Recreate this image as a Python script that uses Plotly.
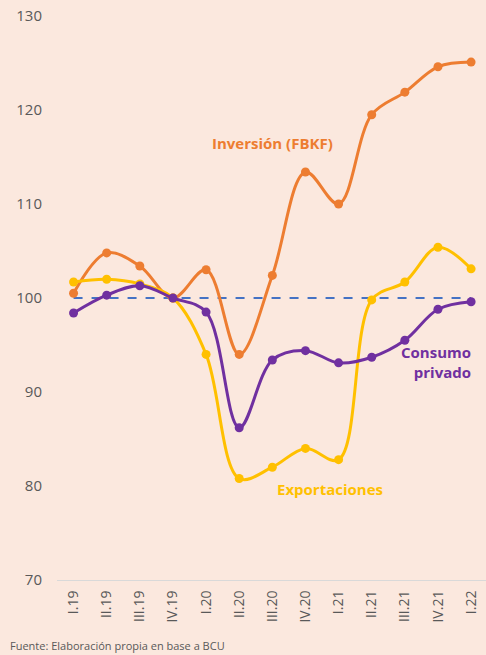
import plotly.graph_objects as go

quarters = ["I.19", "II.19", "III.19", "IV.19", "I.20", "II.20", "III.20", "IV.20",
            "I.21", "II.21", "III.21", "IV.21", "I.22"]
inversion = [100.5, 104.8, 103.4, 100.0, 103.0, 94.0, 102.4, 113.4, 110.0, 119.5, 121.9, 124.6, 125.1]
exportaciones = [101.7, 102.0, 101.5, 100.0, 94.0, 80.8, 82.0, 84.0, 82.8, 99.8, 101.7, 105.4, 103.1]
consumo = [98.4, 100.3, 101.3, 100.0, 98.5, 86.2, 93.4, 94.4, 93.1, 93.7, 95.5, 98.8, 99.6]
base = [100] * len(quarters)

ORANGE = "#ED7D31"
YELLOW = "#FFC000"
PURPLE = "#7030A0"
BLUE = "#4472C4"
BG = "#FBE8DE"
GREY = "#595959"

W, H = 486, 655
L, R, T, B = 57, 0, 16, 75
PH = H - T - B

x = list(range(len(quarters)))
fig = go.Figure()
fig.add_trace(go.Scatter(x=x, y=base, mode="lines",
                         line=dict(color=BLUE, width=2, dash="dash"), hoverinfo="skip"))
for vals, col in [(inversion, ORANGE), (exportaciones, YELLOW), (consumo, PURPLE)]:
    fig.add_trace(go.Scatter(x=x, y=vals, mode="lines+markers",
                             line=dict(color=col, width=3, shape="spline", smoothing=1.0),
                             marker=dict(color=col, size=9)))

fig.update_layout(
    width=W, height=H,
    paper_bgcolor=BG, plot_bgcolor=BG,
    showlegend=False,
    margin=dict(l=L, r=R, t=T, b=B),
    font=dict(family="Open Sans", color=GREY),
    xaxis=dict(range=[-0.5, 12.45], tickmode="array", tickvals=x, ticktext=quarters,
               tickangle=-90, tickfont=dict(size=14, color=GREY), showgrid=False,
               zeroline=False, showline=True, linecolor="#D9D9D9", linewidth=1,
               ticks="outside", ticklen=4, tickcolor="rgba(0,0,0,0)"),
    yaxis=dict(range=[70, 130], tickvals=[70, 80, 90, 100, 110, 120, 130],
               tickfont=dict(size=15, color=GREY), showgrid=False, zeroline=False,
               ticks="outside", ticklen=11, tickcolor="rgba(0,0,0,0)", showline=False),
)

fig.add_annotation(x=6, y=116.5, xref="x", yref="y", text="<b>Inversión (FBKF)</b>",
                   showarrow=False, font=dict(size=15, color=ORANGE, family="Open Sans"))
fig.add_annotation(x=12.05, y=93.2, xref="x", yref="y", text="<b>Consumo<br>privado</b>",
                   showarrow=False, xanchor="right", align="right",
                   font=dict(size=15, color=PURPLE, family="Open Sans"))
fig.add_annotation(x=7.75, y=79.7, xref="x", yref="y", text="<b>Exportaciones</b>",
                   showarrow=False, font=dict(size=15, color=YELLOW, family="Open Sans"))
fig.add_annotation(x=(8 - L) / (W - L - R), y=(H - B - 645) / PH, xref="paper", yref="paper",
                   text="Fuente: Elaboración propia en base a BCU",
                   showarrow=False, xanchor="left", yanchor="middle",
                   font=dict(size=11, color=GREY, family="Open Sans"))

fig.write_html("out.html", config={"displayModeBar": False},
               post_script="document.body.style.margin='0';document.body.style.padding='0';"
                           "document.body.style.overflow='hidden';")
